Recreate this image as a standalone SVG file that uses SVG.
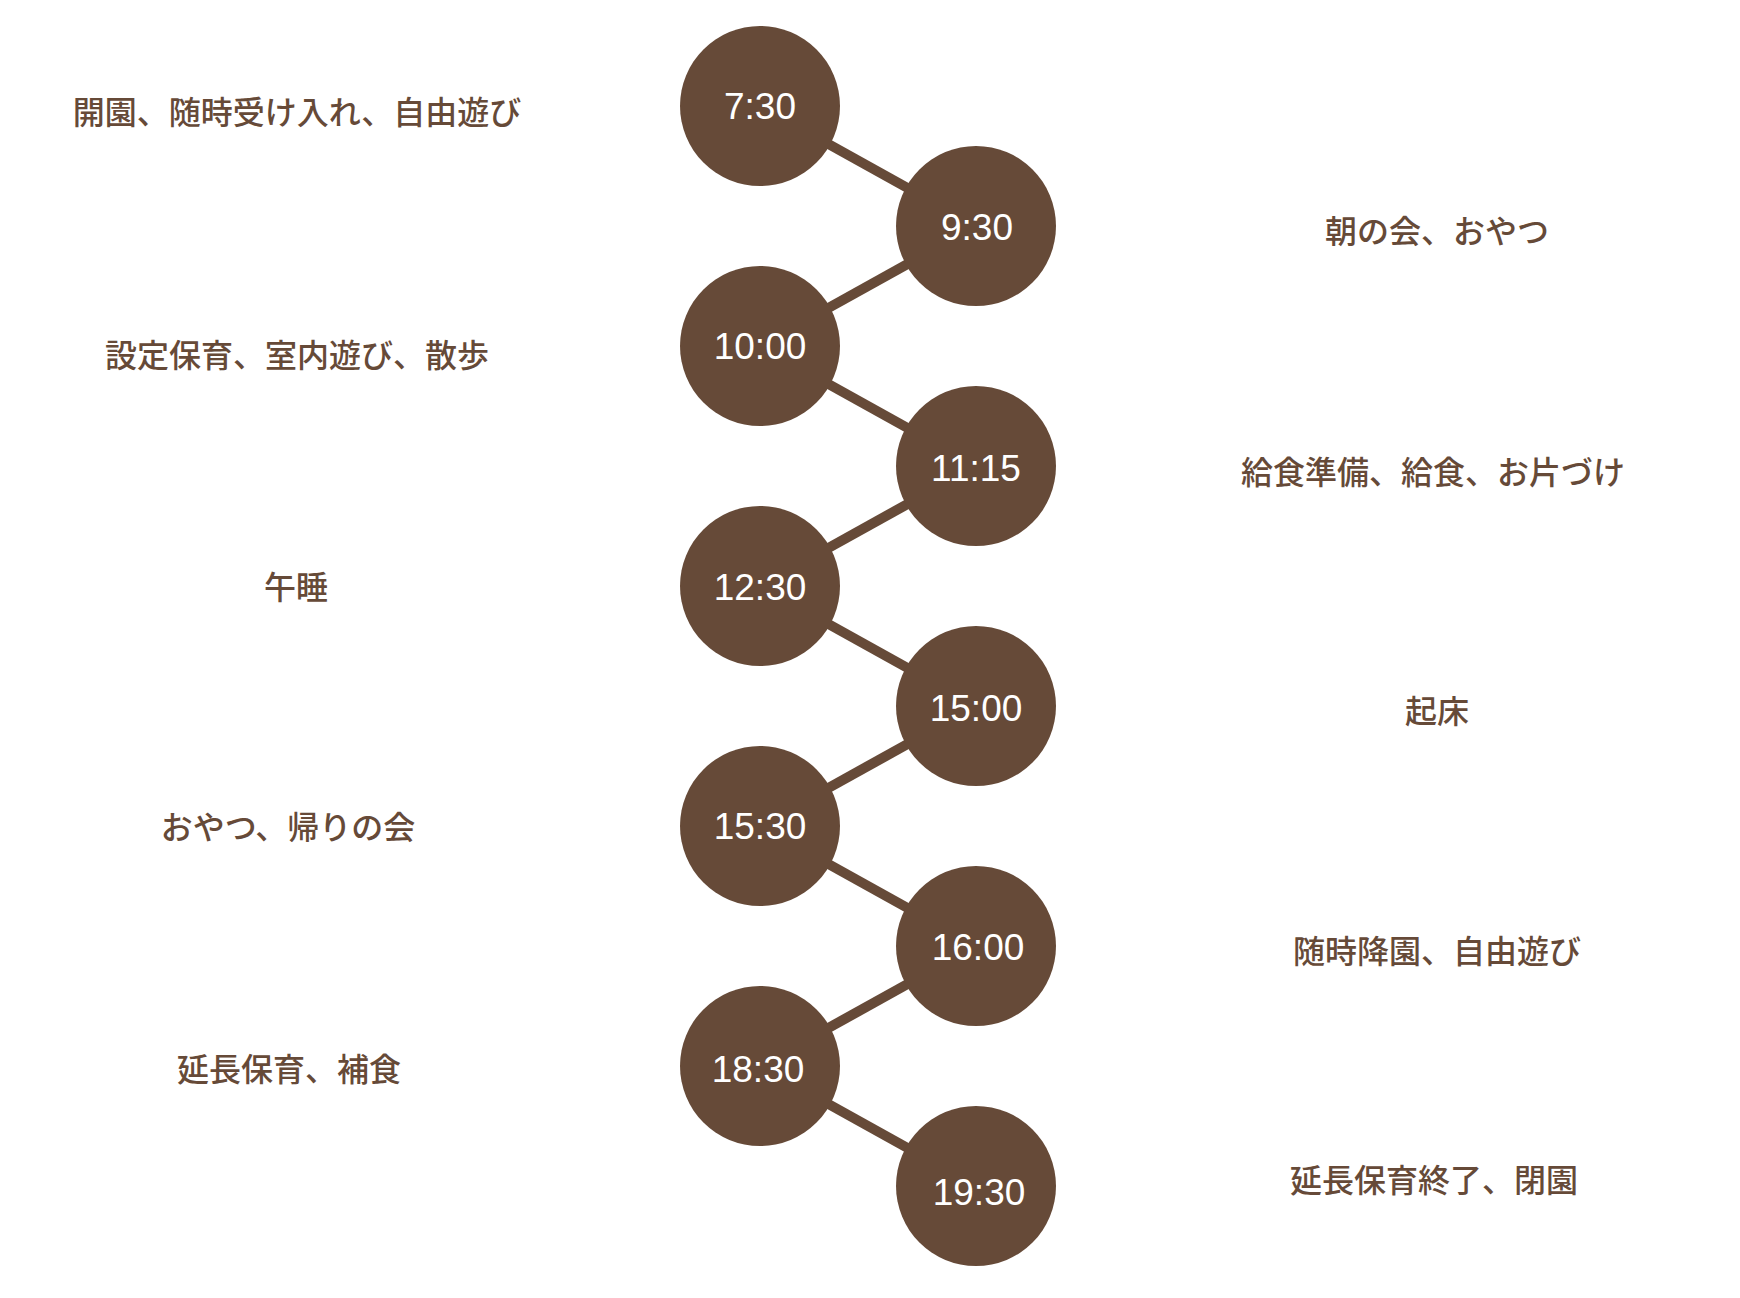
<svg xmlns="http://www.w3.org/2000/svg" width="1740" height="1298" viewBox="0 0 1740 1298">
<style>
.node circle{fill:#664a38}
.time{font-family:"Liberation Sans","Noto Sans",Arial,sans-serif;font-size:37px;fill:#ffffff;text-anchor:middle}
.label{font-family:"Noto Sans CJK JP","Noto Sans CJK SC",sans-serif;font-size:32px;fill:#664a38;text-anchor:middle;font-weight:500}
#connectors line{stroke:#664a38;stroke-width:10}
</style>
<rect width="1740" height="1298" fill="#ffffff"/>
<g id="connectors">
<line x1="760" y1="106" x2="976" y2="226"/>
<line x1="976" y1="226" x2="760" y2="346"/>
<line x1="760" y1="346" x2="976" y2="466"/>
<line x1="976" y1="466" x2="760" y2="586"/>
<line x1="760" y1="586" x2="976" y2="706"/>
<line x1="976" y1="706" x2="760" y2="826"/>
<line x1="760" y1="826" x2="976" y2="946"/>
<line x1="976" y1="946" x2="760" y2="1066"/>
<line x1="760" y1="1066" x2="976" y2="1186"/>
</g>
<g id="n0730" class="node"><circle cx="760" cy="106" r="80"/><text class="time" x="760" y="119">7:30</text></g>
<g id="n0930" class="node"><circle cx="976" cy="226" r="80"/><text class="time" x="977" y="240">9:30</text></g>
<g id="n1000" class="node"><circle cx="760" cy="346" r="80"/><text class="time" x="760" y="359">10:00</text></g>
<g id="n1115" class="node"><circle cx="976" cy="466" r="80"/><text class="time" x="976" y="481">11:15</text></g>
<g id="n1230" class="node"><circle cx="760" cy="586" r="80"/><text class="time" x="760" y="600">12:30</text></g>
<g id="n1500" class="node"><circle cx="976" cy="706" r="80"/><text class="time" x="976" y="721">15:00</text></g>
<g id="n1530" class="node"><circle cx="760" cy="826" r="80"/><text class="time" x="760" y="839">15:30</text></g>
<g id="n1600" class="node"><circle cx="976" cy="946" r="80"/><text class="time" x="978" y="960">16:00</text></g>
<g id="n1830" class="node"><circle cx="760" cy="1066" r="80"/><text class="time" x="758" y="1082">18:30</text></g>
<g id="n1930" class="node"><circle cx="976" cy="1186" r="80"/><text class="time" x="979" y="1205">19:30</text></g>
<g id="labels">
<text class="label" x="297" y="124">開園、随時受け入れ、自由遊び</text>
<text class="label" x="1437" y="243">朝の会、おやつ</text>
<text class="label" x="297" y="367">設定保育、室内遊び、散歩</text>
<text class="label" x="1433" y="484">給食準備、給食、お片づけ</text>
<text class="label" x="296" y="599">午睡</text>
<text class="label" x="1437" y="723">起床</text>
<text class="label" x="288" y="839">おやつ、帰りの会</text>
<text class="label" x="1437" y="963">随時降園、自由遊び</text>
<text class="label" x="289" y="1081">延長保育、補食</text>
<text class="label" x="1434" y="1192">延長保育終了、閉園</text>
</g>
</svg>
